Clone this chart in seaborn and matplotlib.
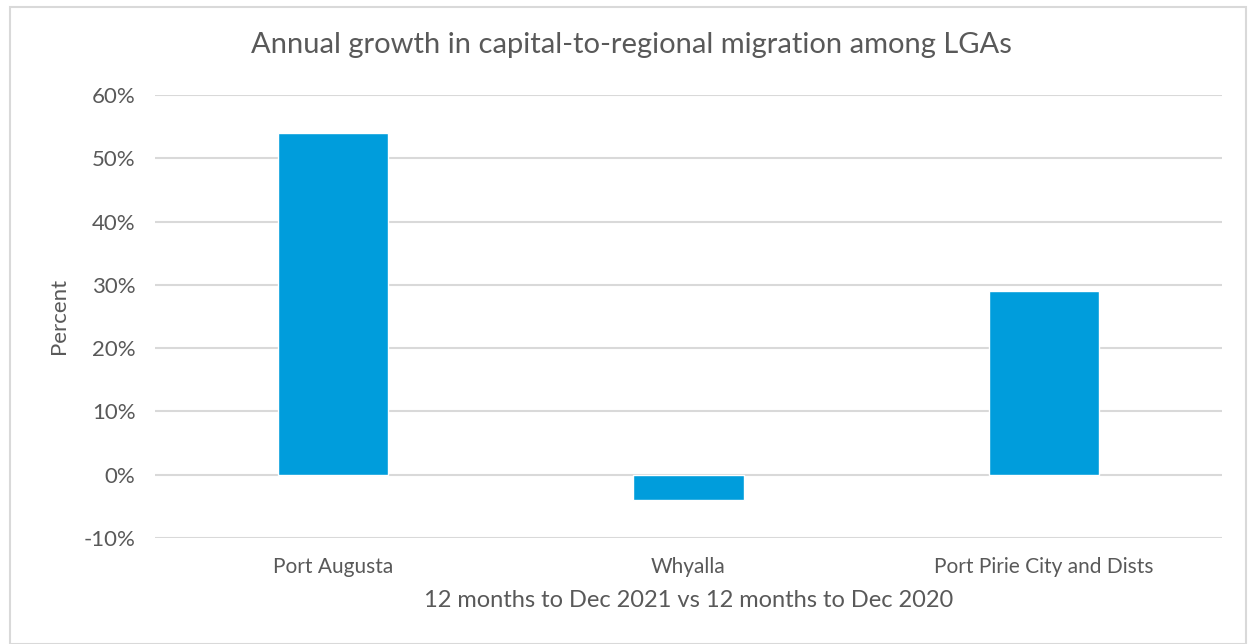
import matplotlib
matplotlib.use("Agg")
import matplotlib.pyplot as plt
import matplotlib.patches as mpatches
from matplotlib.ticker import FuncFormatter, MultipleLocator
import seaborn as sns
import pandas as pd

# Data
lgas = ["Port Augusta", "Whyalla", "Port Pirie City and Dists"]
growth_pct = [54, -4, 29]

title = "Annual growth in capital-to-regional migration among LGAs"
x_label = "12 months to Dec 2021 vs 12 months to Dec 2020"
y_label = "Percent"

sns.set_theme(style="white")
plt.rcParams["font.family"] = ["Lato", "DejaVu Sans"]

text_color = "#595959"
grid_color = "#d9d9d9"
bar_color = "#009ddc"

df = pd.DataFrame({"lga": lgas, "growth": growth_pct})

fig = plt.figure(figsize=(12.48, 6.44), dpi=100)
ax = fig.add_axes([155 / 1248, 1 - 538 / 644, (1222 - 155) / 1248, (538 - 95) / 644])

sns.barplot(data=df, x="lga", y="growth", color=bar_color, saturation=1,
            width=0.31, ax=ax, zorder=3)

ax.set_ylim(-10, 60)
ax.set_xlim(-0.5, 2.5)
ax.yaxis.set_major_locator(MultipleLocator(10))
ax.yaxis.set_major_formatter(FuncFormatter(lambda v, _: f"{v:.0f}%"))
ax.grid(axis="y", color=grid_color, linewidth=1.5, zorder=0)
ax.grid(axis="x", visible=False)
for s in ax.spines.values():
    s.set_visible(False)
ax.tick_params(axis="both", length=0, colors=text_color)
ax.tick_params(axis="y", labelsize=16, pad=14)
ax.tick_params(axis="x", labelsize=15, pad=14)
for lbl in ax.get_xticklabels() + ax.get_yticklabels():
    lbl.set_color(text_color)

ax.set_xlabel(x_label, fontsize=17, color=text_color, labelpad=9)
ax.set_ylabel(y_label, fontsize=16, color=text_color)
fig.text(631 / 1248, 1 - 45 / 644, title,
         ha="center", va="center", fontsize=21, color=text_color)
ax.yaxis.set_label_coords(-86 / (1222 - 155), (538 - 316) / (538 - 95))

# Chart frame
fig.patches.append(mpatches.Rectangle((10 / 1248, 0), 1236 / 1248, 1 - 7 / 644,
                                      transform=fig.transFigure, fill=False,
                                      edgecolor=grid_color, linewidth=1.5))

fig.savefig("out.png", dpi=100)
